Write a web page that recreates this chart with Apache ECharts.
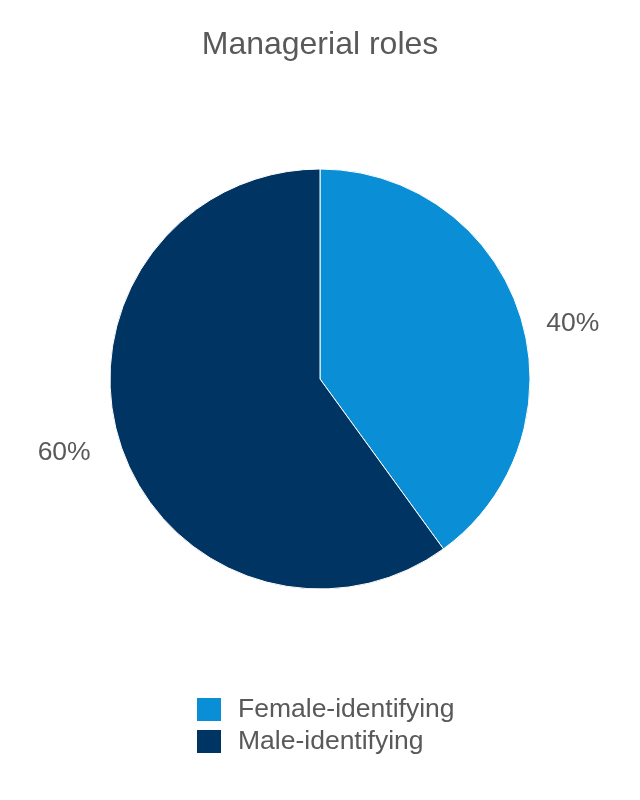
<!DOCTYPE html>
<html>
<head>
<meta charset="utf-8">
<script src="https://cdn.jsdelivr.net/npm/echarts@6/dist/echarts.min.js"></script>
<style>html,body{margin:0;padding:0;background:#fff}#c{width:640px;height:800px}</style>
</head>
<body>
<div id="c"></div>
<script>
const titleText = 'Managerial roles';
const categories = ['Female-identifying', 'Male-identifying'];
const values = [40, 60];
const colors = ['#0A8ED5', '#003462'];

const chart = echarts.init(document.getElementById('c'), null, {renderer: 'canvas'});
chart.setOption({
  animation: false,
  backgroundColor: '#ffffff',
  title: {
    text: titleText,
    left: 'center',
    top: 24,
    textStyle: {fontFamily: 'Liberation Sans', fontSize: 32, fontWeight: 'normal', color: '#595959'}
  },
  legend: {
    orient: 'vertical',
    left: 195,
    top: 696,
    padding: 0,
    itemWidth: 26,
    itemHeight: 25,
    itemGap: 5,
    icon: 'rect',
    data: categories,
    textStyle: {fontFamily: 'Liberation Sans', fontSize: 26.5, color: '#595959', padding: [0, 0, 0, 11]}
  },
  series: [{
    type: 'pie',
    center: [320, 379],
    radius: 210,
    startAngle: 90,
    clockwise: true,
    color: colors,
    itemStyle: {borderColor: '#ffffff', borderWidth: 1},
    label: {
      show: true,
      position: 'outside',
      formatter: '{d}%',
      fontFamily: 'Liberation Sans',
      fontSize: 26.5,
      color: '#595959',
      distanceToLabelLine: 5
    },
    labelLine: {show: false, length: 8, length2: 12},
    labelLayout: function (p) { return {dy: p.dataIndex === 0 ? 12 : 6, dx: p.dataIndex === 0 ? 2 : -5}; },
    data: categories.map((n, i) => ({name: n, value: values[i]}))
  }]
});
</script>
</body>
</html>
